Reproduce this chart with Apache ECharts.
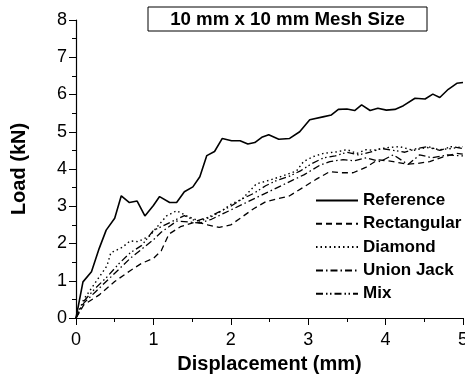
<!DOCTYPE html>
<html>
<head>
<meta charset="utf-8">
<script src="https://cdn.jsdelivr.net/npm/echarts@6/dist/echarts.min.js"></script>
<style>html,body{margin:0;padding:0;background:#fff}#c{width:465px;height:381px}</style>
</head>
<body>
<div id="c"></div>
<script>
var titleText = "10 mm x 10 mm Mesh Size";
var xAxisName = "Displacement (mm)";
var yAxisName = "Load (kN)";
var seriesNames = ["Reference", "Rectangular", "Diamond", "Union Jack", "Mix"];

var refX = [0,0.09,0.2,0.3,0.39,0.5,0.585,0.69,0.79,0.89,1.0,1.08,1.21,1.3,1.4,1.51,1.6,1.69,1.79,1.89,2.01,2.12,2.22,2.31,2.4,2.49,2.62,2.76,2.89,3.02,3.19,3.3,3.39,3.5,3.6,3.69,3.8,3.9,4.01,4.12,4.23,4.38,4.51,4.61,4.7,4.81,4.92,5.0];
var refY = [0,0.97,1.24,1.87,2.36,2.68,3.28,3.10,3.14,2.74,3.02,3.26,3.10,3.10,3.39,3.52,3.79,4.36,4.47,4.82,4.76,4.76,4.67,4.71,4.85,4.92,4.80,4.82,5.00,5.32,5.40,5.45,5.60,5.61,5.57,5.72,5.57,5.63,5.58,5.60,5.70,5.90,5.88,6.01,5.92,6.14,6.30,6.32];

var rectX = [0,0.1,0.3,0.5,0.7,0.85,1.0,1.1,1.2,1.35,1.55,1.7,1.85,2.0,2.15,2.3,2.45,2.6,2.75,2.93,3.1,3.28,3.43,3.58,3.75,3.9,4.1,4.27,4.42,4.57,4.75,4.92,5.0];
var rectY = [0,0.35,0.62,0.98,1.27,1.47,1.6,1.8,2.25,2.45,2.58,2.5,2.43,2.5,2.72,2.94,3.12,3.2,3.27,3.5,3.72,3.93,3.9,3.9,4.05,4.25,4.2,4.13,4.15,4.2,4.33,4.42,4.4];

var diaX = [0,0.1,0.2,0.3,0.4,0.45,0.6,0.7,0.8,0.95,1.03,1.17,1.3,1.45,1.6,1.75,1.9,2.0,2.15,2.33,2.5,2.68,2.85,2.94,3.06,3.2,3.37,3.5,3.63,3.75,3.84,4.0,4.18,4.36,4.53,4.7,4.85,5.0];
var diaY = [0,0.5,0.8,1.1,1.4,1.75,1.9,2.07,2.05,2.2,2.4,2.74,2.88,2.72,2.6,2.72,2.9,3.05,3.2,3.6,3.7,3.82,3.95,4.2,4.33,4.42,4.46,4.52,4.42,4.52,4.5,4.57,4.6,4.5,4.58,4.52,4.55,4.6];

var ujX = [0,0.1,0.25,0.4,0.55,0.7,0.85,1.0,1.1,1.2,1.3,1.45,1.6,1.75,1.9,2.05,2.2,2.35,2.5,2.65,2.8,2.95,3.15,3.28,3.45,3.6,3.75,3.93,4.1,4.29,4.44,4.6,4.8,5.0];
var ujY = [0,0.4,0.7,1.0,1.3,1.6,1.85,2.1,2.3,2.45,2.6,2.58,2.55,2.65,2.8,2.95,3.1,3.25,3.4,3.55,3.7,3.85,4.1,4.2,4.25,4.22,4.3,4.2,4.38,4.12,4.38,4.3,4.38,4.35];

var mixX = [0,0.1,0.25,0.4,0.55,0.7,0.85,1.0,1.1,1.25,1.4,1.55,1.7,1.85,2.0,2.15,2.3,2.45,2.6,2.75,2.9,3.05,3.2,3.35,3.5,3.65,3.8,3.95,4.1,4.25,4.4,4.55,4.7,4.85,5.0];
var mixY = [0,0.45,0.8,1.1,1.45,1.75,1.95,2.35,2.45,2.6,2.75,2.6,2.7,2.85,3.0,3.2,3.35,3.55,3.7,3.8,3.95,4.15,4.3,4.35,4.45,4.38,4.45,4.55,4.5,4.45,4.55,4.6,4.5,4.6,4.55];

var xTicks = [0,1,2,3,4,5];
var yTicks = [0,1,2,3,4,5,6,7,8];

function pairs(xs, ys){ return xs.map(function(x,i){ return [x, ys[i]]; }); }

var FONT = "'Liberation Sans', Arial, sans-serif";
var dashStyles = ['solid', [6,4], [1.5,3], [7,3,1.5,3], [7,3,1.5,2.5,1.5,3]];
var widths = [1.6, 1.3, 1.4, 1.3, 1.3];
var allData = [pairs(refX,refY), pairs(rectX,rectY), pairs(diaX,diaY), pairs(ujX,ujY), pairs(mixX,mixY)];

var series = seriesNames.map(function(n,i){
  return {
    name: n, type: 'line', data: allData[i], symbol: 'none', silent: true,
    lineStyle: {color: '#000', width: widths[i], type: dashStyles[i]},
    itemStyle: {color: '#000'}
  };
});

var chart = echarts.init(document.getElementById('c'), null, {renderer: 'canvas'});
chart.setOption({
  animation: false,
  backgroundColor: '#fff',
  grid: {left: 76, right: 2, top: 20, bottom: 63, containLabel: false, outerBoundsMode: 'none'},
  xAxis: {
    type: 'value', min: xTicks[0], max: xTicks[xTicks.length-1], interval: 1,
    name: xAxisName, nameLocation: 'middle', nameGap: 36,
    nameTextStyle: {fontFamily: FONT, fontSize: 20, fontWeight: 'bold', color: '#000'},
    axisLine: {show: true, lineStyle: {color: '#000', width: 1.2}},
    axisTick: {show: true, length: 7, inside: false, lineStyle: {color: '#000'}},
    minorTick: {show: true, splitNumber: 2, length: 4, lineStyle: {color: '#000'}},
    axisLabel: {fontFamily: FONT, fontSize: 18, color: '#000', margin: 13, showMaxLabel: true, hideOverlap: false},
    splitLine: {show: false}
  },
  yAxis: {
    type: 'value', min: yTicks[0], max: yTicks[yTicks.length-1], interval: 1,
    name: yAxisName, nameLocation: 'middle', nameGap: 47,
    nameTextStyle: {fontFamily: FONT, fontSize: 20, fontWeight: 'bold', color: '#000'},
    axisLine: {show: true, lineStyle: {color: '#000', width: 1.2}},
    axisTick: {show: true, length: 7, inside: false, lineStyle: {color: '#000'}},
    minorTick: {show: true, splitNumber: 2, length: 4, lineStyle: {color: '#000'}},
    axisLabel: {fontFamily: FONT, fontSize: 18, color: '#000', margin: 9},
    splitLine: {show: false}
  },
  legend: {
    orient: 'vertical', left: 310, top: 187,
    itemWidth: 42, itemHeight: 14, itemGap: 6.3,
    itemStyle: {color: 'rgba(0,0,0,0)', borderWidth: 0, opacity: 0},
    textStyle: {fontFamily: FONT, fontSize: 17, fontWeight: 'bold', color: '#000'},
    data: seriesNames
  },
  graphic: [
    {type: 'rect', shape: {x: 148, y: 7, width: 279, height: 24}, style: {fill: '#fff', stroke: '#000', lineWidth: 1}},
    {type: 'text', x: 287.5, y: 19.5, style: {text: titleText, font: "bold 18.7px " + FONT, fill: '#000', textAlign: 'center', textVerticalAlign: 'middle'}}
  ],
  series: series
});
</script>
</body>
</html>
